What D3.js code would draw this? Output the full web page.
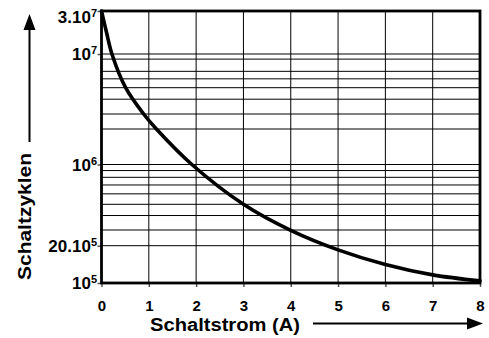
<!DOCTYPE html>
<html>
<head>
<meta charset="utf-8">
<script src="https://cdn.jsdelivr.net/npm/d3@7"></script>
<style>
  body { margin: 0; background: #fff; }
  text { font-family: "Liberation Sans", Arial, Helvetica, sans-serif; font-weight: bold; fill: #000; }
</style>
</head>
<body>
<svg width="489" height="338"></svg>
<script>
// Werte (Schaltstrom in A, Schaltzyklen)
const current = [0, 0.11, 0.22, 0.51, 0.89, 1.16, 1.91, 3, 4, 5, 6, 7, 8];
const cycles = [3e7, 1.7e7, 1e7, 5e6, 3e6, 2e6, 1e6, 5e5, 2.97e5, 1.85e5, 1.41e5, 1.163e5, 1.04e5];

const xTicks = [0, 1, 2, 3, 4, 5, 6, 7, 8];
const yTicks = [3e7, 1e7, 1e6, 2e5, 1e5];
const yTickBase = ["3.10", "10", "10", "20.10", "10"];
const yTickExp = ["7", "7", "6", "5", "5"];
const yGrid = [2e5, 3e5, 4e5, 5e5, 6e5, 7e5, 8e5, 9e5, 1e6, 2e6, 3e6, 4e6, 5e6, 6e6, 7e6, 9e6, 1e7];

const svg = d3.select("svg");

const xScale = d3.scaleLinear().domain([0, 8]).range([101.5, 480]);
// die log-Teilung im Original ist nicht ganz gleichmaessig
const yScale = d3.scaleLog()
  .domain([1e5, 2e5, 3e5, 5e5, 1e6, 2e6, 3e6, 5e6, 1e7, 3e7])
  .range([283, 245.7, 230, 204.3, 164.5, 129, 114, 87.7, 54, 11]);

const x0 = xScale(0), x1 = xScale(8);
const yTop = yScale(3e7), yBot = yScale(1e5);

// Gitter
svg.append("g")
  .selectAll("line")
  .data(yGrid)
  .join("line")
  .attr("x1", x0).attr("x2", x1)
  .attr("y1", d => yScale(d)).attr("y2", d => yScale(d))
  .attr("stroke", "#000").attr("stroke-width", 1);

svg.append("g")
  .selectAll("line")
  .data(xTicks.slice(1, -1))
  .join("line")
  .attr("x1", d => xScale(d)).attr("x2", d => xScale(d))
  .attr("y1", yTop).attr("y2", yBot)
  .attr("stroke", "#000").attr("stroke-width", 1);

// Achsen (nur Striche)
const xAxis = d3.axisBottom(xScale)
  .tickValues(xTicks)
  .tickSize(4)
  .tickPadding(13)
  .tickFormat(d => d);

const xAxisG = svg.append("g")
  .attr("transform", `translate(0,${yBot})`)
  .call(xAxis);
xAxisG.select(".domain").remove();
xAxisG.attr("font-family", null).attr("font-size", 15);
xAxisG.selectAll("line").attr("stroke", "#555").attr("stroke-width", 1.5);

const yAxis = d3.axisLeft(yScale)
  .tickValues(yTicks)
  .tickSize(4)
  .tickFormat("");

const yAxisG = svg.append("g")
  .attr("transform", `translate(${x0},0)`)
  .call(yAxis);
yAxisG.select(".domain").remove();
yAxisG.selectAll("line").attr("stroke", "#555").attr("stroke-width", 1.5);

// y-Beschriftung mit Exponent
const yLabel = svg.append("g")
  .selectAll("text")
  .data(yTicks)
  .join("text")
  .attr("x", 97)
  .attr("y", d => Math.max(yScale(d), 17) + 6)
  .attr("text-anchor", "end")
  .attr("font-size", 17);
yLabel.append("tspan").text((d, i) => yTickBase[i]);
yLabel.append("tspan")
  .attr("font-size", 11)
  .attr("dy", -6)
  .text((d, i) => yTickExp[i]);

// Rahmen
svg.append("rect")
  .attr("x", x0).attr("y", yTop)
  .attr("width", x1 - x0).attr("height", yBot - yTop)
  .attr("fill", "none")
  .attr("stroke", "#000")
  .attr("stroke-width", 2.8);

// Kennlinie
const line = d3.line()
  .x((d, i) => xScale(current[i]))
  .y(d => yScale(d))
  .curve(d3.curveCatmullRom.alpha(0.5));

svg.append("path")
  .attr("d", line(cycles))
  .attr("fill", "none")
  .attr("stroke", "#000")
  .attr("stroke-width", 3.6)
  .attr("stroke-linecap", "round");

// Achsentitel + Pfeile
svg.append("text")
  .attr("x", 150).attr("y", 331)
  .attr("font-size", 17.5)
  .attr("textLength", 150)
  .attr("lengthAdjust", "spacingAndGlyphs")
  .text("Schaltstrom (A)");

svg.append("line")
  .attr("x1", 313).attr("x2", 468)
  .attr("y1", 323.5).attr("y2", 323.5)
  .attr("stroke", "#000").attr("stroke-width", 2);
svg.append("path")
  .attr("d", "M483,323.5L467,317.5L467,329.5Z")
  .attr("fill", "#000");

svg.append("text")
  .attr("transform", "translate(31,216.5) rotate(-90)")
  .attr("text-anchor", "middle")
  .attr("font-size", 17.5)
  .attr("textLength", 127)
  .attr("lengthAdjust", "spacingAndGlyphs")
  .text("Schaltzyklen");

svg.append("line")
  .attr("x1", 29.5).attr("x2", 29.5)
  .attr("y1", 142).attr("y2", 28)
  .attr("stroke", "#000").attr("stroke-width", 2);
svg.append("path")
  .attr("d", "M29.5,14L23.5,30L35.5,30Z")
  .attr("fill", "#000");
</script>
</body>
</html>
